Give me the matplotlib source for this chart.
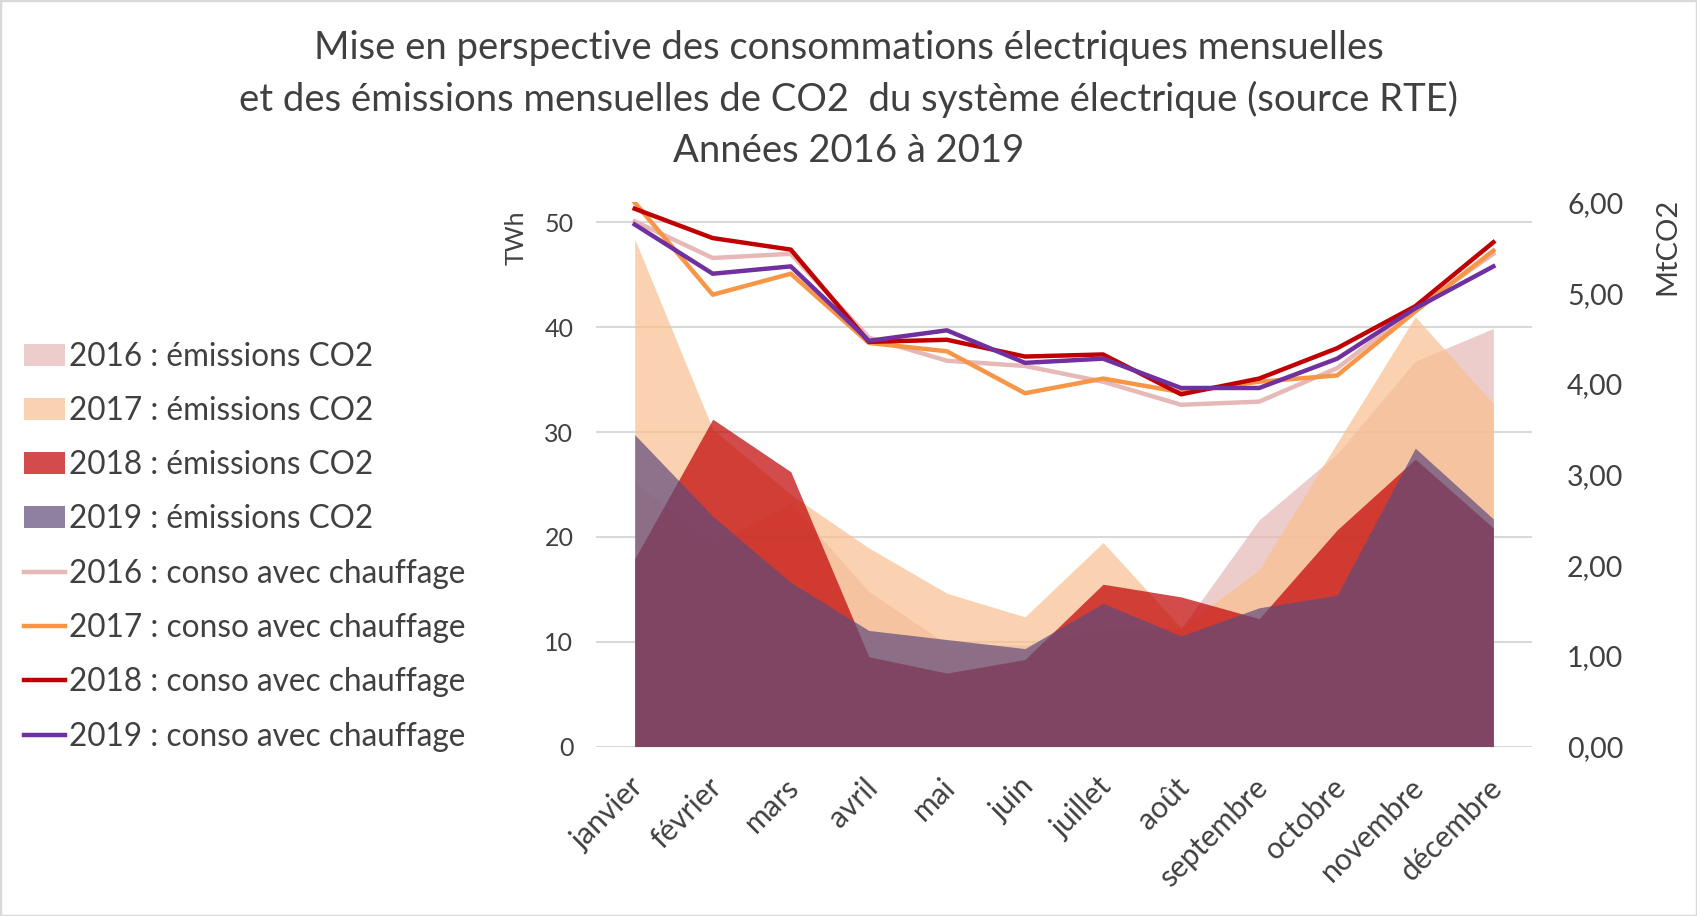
import matplotlib
matplotlib.use("Agg")
from matplotlib import pyplot as plt
from matplotlib.patches import Rectangle
from matplotlib.transforms import ScaledTranslation

months = ["janvier", "février", "mars", "avril", "mai", "juin", "juillet",
          "août", "septembre", "octobre", "novembre", "décembre"]

# consommation mensuelle avec chauffage (TWh)
conso_2016 = [50.1, 46.6, 47.0, 39.0, 36.8, 36.3, 34.8, 32.6, 32.9, 36.1, 41.8, 47.0]
conso_2017 = [51.9, 43.1, 45.1, 38.5, 37.7, 33.7, 35.1, 33.8, 34.8, 35.4, 41.5, 47.3]
conso_2018 = [51.3, 48.5, 47.4, 38.6, 38.8, 37.2, 37.4, 33.6, 35.1, 38.0, 42.0, 48.1]
conso_2019 = [49.8, 45.1, 45.8, 38.7, 39.7, 36.6, 37.0, 34.2, 34.2, 37.0, 41.8, 45.8]

# émissions mensuelles de CO2 (MtCO2)
co2_2016 = [2.92, 2.22, 2.68, 1.71, 1.13, 1.12, 1.30, 1.30, 2.50, 3.23, 4.25, 4.61]
co2_2017 = [5.60, 3.50, 2.78, 2.19, 1.69, 1.43, 2.25, 1.31, 1.95, 3.35, 4.74, 3.78]
co2_2018 = [2.07, 3.61, 3.03, 0.99, 0.81, 0.96, 1.79, 1.65, 1.41, 2.39, 3.17, 2.41]
co2_2019 = [3.44, 2.54, 1.81, 1.28, 1.18, 1.08, 1.58, 1.22, 1.53, 1.67, 3.29, 2.51]

left_ticks = [0, 10, 20, 30, 40, 50]
right_ticks = [0, 1, 2, 3, 4, 5, 6]

plt.rcParams['font.family'] = ['Lato', 'DejaVu Sans']
txt = '#404040'

fig = plt.figure(figsize=(16.97, 9.16), dpi=100)
rect = [0.351, 0.185, 0.552, 0.594]

# grid underneath, then the CO2 areas, then the consumption lines
gax = fig.add_axes(rect, zorder=1)
ax2 = fig.add_axes(rect, zorder=2)
ax = fig.add_axes(rect, zorder=3)

x = list(range(len(months)))

area_cols = ['#E6B8B7', '#FAC090', '#C00000', '#604A7B']
area_data = [co2_2016, co2_2017, co2_2018, co2_2019]
line_cols = ['#E6B9B8', '#F79646', '#C00000', '#7030A0']
line_data = [conso_2016, conso_2017, conso_2018, conso_2019]
years = ['2016', '2017', '2018', '2019']

handles = []
for yr, d, c in zip(years, area_data, area_cols):
    h = ax2.fill_between(x, 0, d, color=c, alpha=0.7, lw=0,
                         label=yr + ' : émissions CO2')
    handles.append(h)
for yr, d, c in zip(years, line_data, line_cols):
    h, = ax.plot(x, d, color=c, lw=3.2,
                 label=yr + ' : conso avec chauffage')
    handles.append(h)

for a in (gax, ax, ax2):
    a.set_xlim(-0.5, 11.5)
    a.patch.set_visible(False)
    for s in a.spines.values():
        s.set_visible(False)
    a.tick_params(length=0)
gax.set_ylim(0, 51.9)
ax.set_ylim(0, 51.9)
ax2.set_ylim(0, 6)

gax.set_yticks(left_ticks)
gax.yaxis.grid(True, color='#D9D9D9', lw=1.5)
gax.tick_params(labelleft=False, labelbottom=False)
gax.set_xticks([])

ax.set_yticks(left_ticks)
ax.set_yticklabels([str(v) for v in left_ticks], color=txt, fontsize=18)
ax.tick_params(axis='y', pad=16)
ax.set_xticks(x)
ax.set_xticklabels(months, rotation=45, ha='right', va='top',
                   rotation_mode='anchor', color=txt, fontsize=21.5)
ax.tick_params(axis='x', pad=19)
shift = ScaledTranslation(-6 / 100, 0, fig.dpi_scale_trans)
for lab in ax.get_xticklabels():
    lab.set_transform(lab.get_transform() + shift)

ax2.yaxis.tick_right()
ax2.set_yticks(right_ticks)
ax2.set_yticklabels([f"{v:.2f}".replace('.', ',') for v in right_ticks],
                    color=txt, fontsize=20.5)
ax2.tick_params(axis='y', pad=25)
ax2.set_xticks([])

fig.text(516 / 1697, 1 - 238 / 916, 'TWh', rotation=90, ha='center',
         va='center', color=txt, fontsize=18)
fig.text(1667 / 1697, 1 - 246 / 916, 'MtCO2', rotation=90, ha='center',
         va='center', color=txt, fontsize=21)

fig.text(0.5, 1 - 30 / 916,
         "Mise en perspective des consommations électriques mensuelles\n"
         "et des émissions mensuelles de CO2  du système électrique (source RTE)\n"
         "Années 2016 à 2019",
         ha='center', va='top', color=txt, fontsize=27.5, linespacing=1.5)

fig.legend(handles=handles, loc='upper left', bbox_to_anchor=(0.014, 0.627),
           frameon=False, fontsize=22.7, handlelength=1.3, handletextpad=0.15,
           labelspacing=0.77, borderaxespad=0, borderpad=0, labelcolor=txt)

fig.patches.append(Rectangle((0, 0), 1, 1, transform=fig.transFigure,
                             fill=False, ec='#D9D9D9', lw=2.5))

fig.savefig('out.png', dpi=100)
